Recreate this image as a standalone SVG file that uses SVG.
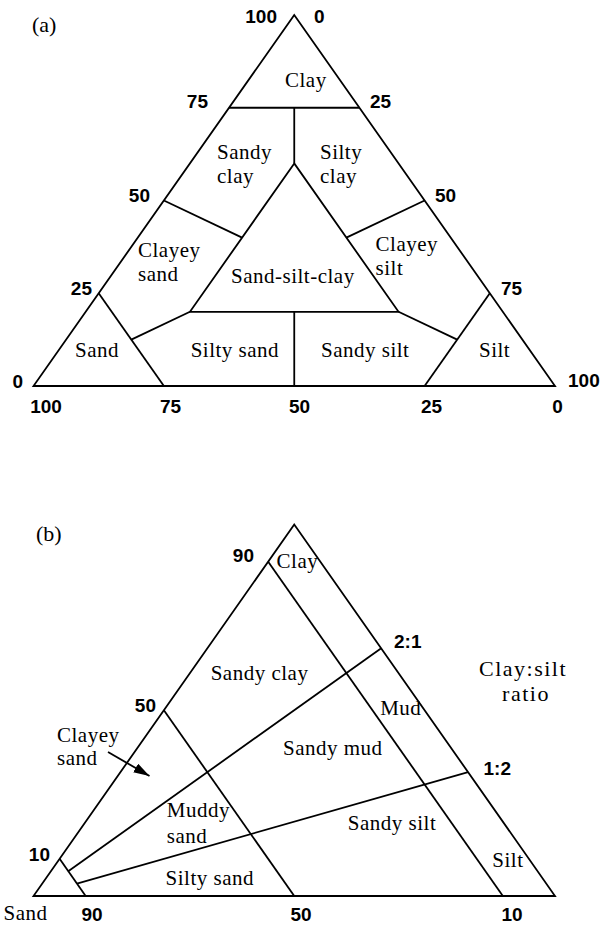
<svg xmlns="http://www.w3.org/2000/svg" width="604" height="926" viewBox="0 0 604 926">
<style>
  .ln { fill: none; stroke: #000; stroke-width: 1.8; stroke-linejoin: miter; }
  .lab { font-family: "Liberation Serif", "Times New Roman", serif; font-size: 21px; fill: #000; letter-spacing: 0.5px; }
  .big { font-family: "Liberation Serif", "Times New Roman", serif; font-size: 22px; fill: #000; letter-spacing: 1.5px; }
  .num { font-family: "Liberation Sans", Arial, sans-serif; font-size: 19px; font-weight: bold; fill: #000; }
  .pan { font-family: "Liberation Serif", "Times New Roman", serif; font-size: 22px; fill: #000; }
</style>
<defs>
  <marker id="ah" viewBox="0 0 16 10" refX="16" refY="5" markerWidth="16" markerHeight="10" markerUnits="userSpaceOnUse" orient="auto">
    <path d="M0,0 L16,5 L0,10 Z" fill="#000"/>
  </marker>
</defs>
<rect width="604" height="926" fill="#fff"/>

<!-- Panel (a) -->
<g id="panel-a">
  <g id="a-lines">
    <polygon class="ln" points="294.25,15 33.5,386 555,386"/>
    <line class="ln" x1="229.1" y1="107.75" x2="359.4" y2="107.75"/>
    <line class="ln" x1="294.25" y1="107.75" x2="294.25" y2="163.4"/>
    <polygon class="ln" points="294.25,163.4 189.95,311.8 398.55,311.8"/>
    <line class="ln" x1="163.9" y1="200.5" x2="242.1" y2="237.6"/>
    <line class="ln" x1="424.6" y1="200.5" x2="346.4" y2="237.6"/>
    <line class="ln" x1="294.25" y1="311.8" x2="294.25" y2="386"/>
    <line class="ln" x1="98.7" y1="293.25" x2="163.9" y2="386"/>
    <line class="ln" x1="189.95" y1="311.8" x2="131.3" y2="339.6"/>
    <line class="ln" x1="489.8" y1="293.25" x2="424.6" y2="386"/>
    <line class="ln" x1="398.55" y1="311.8" x2="457.2" y2="339.6"/>
  </g>
  <text class="pan" x="32" y="32">(a)</text>
  <g id="a-scale">
    <text class="num" x="277" y="23" text-anchor="end">100</text>
    <text class="num" x="314" y="23">0</text>
    <text class="num" x="208" y="108" text-anchor="end">75</text>
    <text class="num" x="370" y="108">25</text>
    <text class="num" x="150" y="202" text-anchor="end">50</text>
    <text class="num" x="435" y="202">50</text>
    <text class="num" x="92" y="295" text-anchor="end">25</text>
    <text class="num" x="501" y="295">75</text>
    <text class="num" x="23" y="388" text-anchor="end">0</text>
    <text class="num" x="568" y="387">100</text>
    <text class="num" x="46" y="413" text-anchor="middle">100</text>
    <text class="num" x="170.5" y="413" text-anchor="middle">75</text>
    <text class="num" x="299.5" y="413" text-anchor="middle">50</text>
    <text class="num" x="431.5" y="413" text-anchor="middle">25</text>
    <text class="num" x="557.6" y="413" text-anchor="middle">0</text>
  </g>
  <g id="a-clay"><text class="lab" x="285" y="87">Clay</text></g>
  <g id="a-sandy-clay"><text class="lab" x="217" y="159">Sandy</text><text class="lab" x="217" y="183">clay</text></g>
  <g id="a-silty-clay"><text class="lab" x="320" y="159">Silty</text><text class="lab" x="320" y="183">clay</text></g>
  <g id="a-clayey-sand"><text class="lab" x="138" y="257">Clayey</text><text class="lab" x="138" y="281">sand</text></g>
  <g id="a-sand-silt-clay"><text class="lab" x="231" y="283">Sand-silt-clay</text></g>
  <g id="a-clayey-silt"><text class="lab" x="375.6" y="251">Clayey</text><text class="lab" x="375.6" y="275">silt</text></g>
  <g id="a-sand"><text class="lab" x="75" y="357">Sand</text></g>
  <g id="a-silty-sand"><text class="lab" x="190.7" y="357">Silty sand</text></g>
  <g id="a-sandy-silt"><text class="lab" x="321" y="357">Sandy silt</text></g>
  <g id="a-silt"><text class="lab" x="479" y="357">Silt</text></g>
</g>

<!-- Panel (b) -->
<g id="panel-b">
  <g id="b-lines">
    <polygon class="ln" points="294.25,524.5 33.5,896 555,896"/>
    <line class="ln" x1="268.2" y1="561.65" x2="502.85" y2="896"/>
    <line class="ln" x1="163.9" y1="710.25" x2="294.25" y2="896"/>
    <line class="ln" x1="59.6" y1="858.85" x2="85.65" y2="896"/>
    <line class="ln" x1="68.25" y1="871.2" x2="381.2" y2="648.3"/>
    <line class="ln" x1="76.95" y1="883.6" x2="468.1" y2="772.2"/>
  </g>
  <g id="b-arrow">
    <line class="ln" x1="108" y1="752" x2="149.5" y2="776" marker-end="url(#ah)"/>
  </g>
  <text class="pan" x="36" y="541">(b)</text>
  <g id="b-scale">
    <text class="num" x="254" y="562" text-anchor="end">90</text>
    <text class="num" x="156" y="712" text-anchor="end">50</text>
    <text class="num" x="50" y="861" text-anchor="end">10</text>
    <text class="num" x="394" y="648">2:1</text>
    <text class="num" x="483.5" y="775">1:2</text>
    <text class="num" x="92" y="921" text-anchor="middle">90</text>
    <text class="num" x="301" y="921" text-anchor="middle">50</text>
    <text class="num" x="512" y="921" text-anchor="middle">10</text>
  </g>
  <g id="b-clay"><text class="lab" x="276.6" y="568">Clay</text></g>
  <g id="b-sandy-clay"><text class="lab" x="210.7" y="680">Sandy clay</text></g>
  <g id="b-ratio"><text class="big" x="523" y="676" text-anchor="middle">Clay:silt</text><text class="big" x="526" y="701" text-anchor="middle">ratio</text></g>
  <g id="b-mud"><text class="lab" x="380.2" y="715">Mud</text></g>
  <g id="b-clayey-sand"><text class="lab" x="57" y="742">Clayey</text><text class="lab" x="57" y="765">sand</text></g>
  <g id="b-sandy-mud"><text class="lab" x="283" y="755">Sandy mud</text></g>
  <g id="b-muddy-sand"><text class="lab" x="166.8" y="817">Muddy</text><text class="lab" x="166.8" y="842.7">sand</text></g>
  <g id="b-sandy-silt"><text class="lab" x="347.8" y="830">Sandy silt</text></g>
  <g id="b-silt"><text class="lab" x="492.3" y="866.7">Silt</text></g>
  <g id="b-silty-sand"><text class="lab" x="165.6" y="885">Silty sand</text></g>
  <g id="b-sand"><text class="lab" x="3.5" y="920">Sand</text></g>
</g>
</svg>
